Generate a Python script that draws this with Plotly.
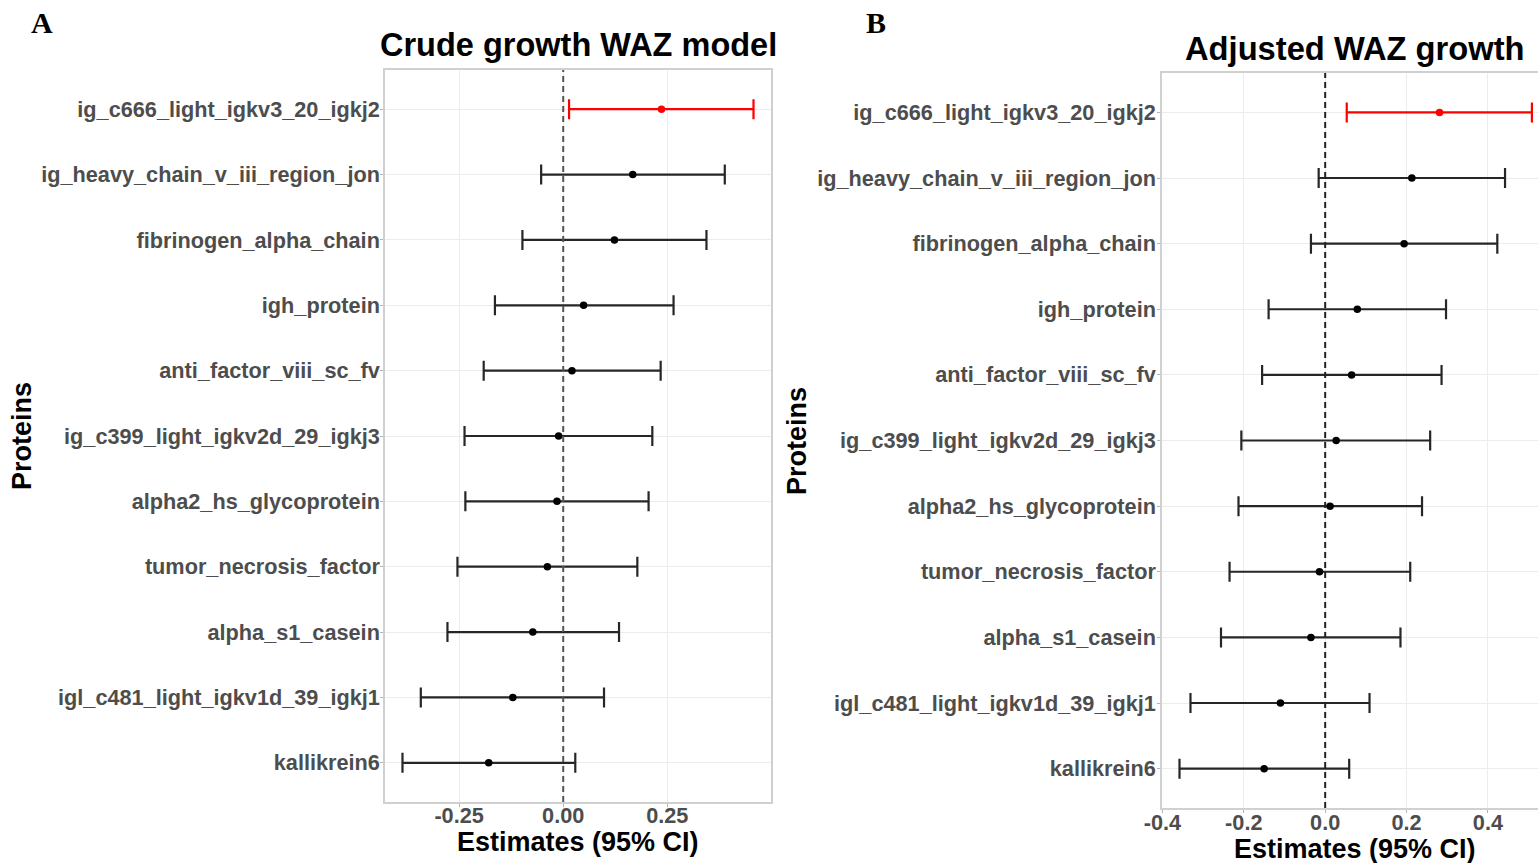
import plotly.graph_objects as go

# ---------------- data ----------------
proteins = [
    "ig_c666_light_igkv3_20_igkj2",
    "ig_heavy_chain_v_iii_region_jon",
    "fibrinogen_alpha_chain",
    "igh_protein",
    "anti_factor_viii_sc_fv",
    "ig_c399_light_igkv2d_29_igkj3",
    "alpha2_hs_glycoprotein",
    "tumor_necrosis_factor",
    "alpha_s1_casein",
    "igl_c481_light_igkv1d_39_igkj1",
    "kallikrein6",
]

crude_est = [0.236, 0.167, 0.123, 0.049, 0.021, -0.011, -0.015, -0.038, -0.073, -0.121, -0.179]
crude_lo = [0.014, -0.053, -0.098, -0.164, -0.191, -0.237, -0.235, -0.254, -0.278, -0.342, -0.386]
crude_hi = [0.457, 0.388, 0.344, 0.265, 0.234, 0.214, 0.205, 0.178, 0.134, 0.098, 0.029]

adj_est = [0.281, 0.213, 0.194, 0.079, 0.065, 0.027, 0.012, -0.014, -0.035, -0.110, -0.150]
adj_lo = [0.053, -0.016, -0.035, -0.139, -0.155, -0.206, -0.213, -0.235, -0.256, -0.331, -0.358]
adj_hi = [0.508, 0.442, 0.423, 0.297, 0.286, 0.258, 0.238, 0.209, 0.185, 0.109, 0.059]

crude_ticks = [-0.25, 0.0, 0.25]
crude_ticktext = ["-0.25", "0.00", "0.25"]
adj_ticks = [-0.4, -0.2, 0.0, 0.2, 0.4]
adj_ticktext = ["-0.4", "-0.2", "0.0", "0.2", "0.4"]

title_a = "Crude growth WAZ model"
title_b = "Adjusted WAZ growth"
x_title = "Estimates (95% CI)"
y_title = "Proteins"

# ---------------- figure ----------------
W, H = 1538, 863
FONT = "Liberation Sans, Arial, sans-serif"
fig = go.Figure()


def add_panel(est, lo, hi, xa, ya):
    groups = {"sig": [], "ns": []}
    for i, p in enumerate(proteins):
        key = "sig" if lo[i] > 0 or hi[i] < 0 else "ns"
        groups[key].append(i)
    for key, idx in groups.items():
        if not idx:
            continue
        col = "#ff0000" if key == "sig" else "#262626"
        mcol = "#ff0000" if key == "sig" else "#000000"
        fig.add_trace(go.Scatter(
            x=[est[i] for i in idx],
            y=[proteins[i] for i in idx],
            mode="markers",
            marker=dict(color=mcol, size=7.5),
            error_x=dict(
                type="data", symmetric=False,
                array=[hi[i] - est[i] for i in idx],
                arrayminus=[est[i] - lo[i] for i in idx],
                color=col, thickness=2.2, width=10,
            ),
            xaxis=xa, yaxis=ya, showlegend=False, hoverinfo="skip",
        ))


add_panel(crude_est, crude_lo, crude_hi, "x", "y")
add_panel(adj_est, adj_lo, adj_hi, "x2", "y2")


def px_x(v):
    return v / W


def px_y(v):
    return 1 - v / H


axis_common = dict(
    showline=True, mirror=True, linecolor="#d0d0d0", linewidth=1.5,
    showgrid=True, gridcolor="#ececec", gridwidth=1, automargin=False,
    zeroline=False, ticks="outside", ticklen=3, tickcolor="#b3b3b3",
    tickfont=dict(family=FONT, size=21.7, color="#4d4d4d", weight="bold"),
)

cat_order = list(reversed(proteins))

fig.update_layout(
    template="none",
    width=W, height=H, margin=dict(l=0, r=0, t=0, b=0, pad=0),
    paper_bgcolor="white", plot_bgcolor="white",
    xaxis=dict(axis_common, domain=[px_x(385), px_x(771)], range=[-0.428, 0.499],
               tickvals=crude_ticks, ticktext=crude_ticktext, anchor="y",
               ticklabelstandoff=-10),
    yaxis=dict(axis_common, domain=[px_y(802), px_y(70)], type="category",
               categoryorder="array", categoryarray=cat_order, range=[-0.6, 10.6],
               anchor="x", ticklabelstandoff=-4),
    xaxis2=dict(axis_common, domain=[px_x(1162), 1.0], range=[-0.401, 0.523],
                tickvals=adj_ticks, ticktext=adj_ticktext, anchor="y2",
                ticklabelstandoff=-9),
    yaxis2=dict(axis_common, domain=[px_y(808), px_y(73)], type="category",
                categoryorder="array", categoryarray=cat_order, range=[-0.6, 10.6],
                anchor="x2", ticklabelstandoff=-3),
)

# reference lines at zero
for xr, yr, colr in (("x", "y domain", "#555555"), ("x2", "y2 domain", "#222222")):
    fig.add_shape(type="line", xref=xr, yref=yr, x0=0, x1=0, y0=0, y1=1,
                  line=dict(color=colr, width=2, dash="6px,4px"))

# text annotations
def ann(text, x, y, size, angle=0, family=FONT, color="#000000"):
    fig.add_annotation(text=text, x=px_x(x), y=px_y(y), xref="paper", yref="paper",
                       xanchor="center", yanchor="middle", showarrow=False, textangle=angle,
                       font=dict(family=family, size=size, color=color, weight="bold"))


ann(title_a, 578, 45, 32.5)
ann(title_b, 1355, 48, 32.7)
ann(x_title, 578, 842, 27)
ann(x_title, 1355, 849, 27)
ann(y_title, 22, 436, 27, angle=-90)
ann(y_title, 797, 441, 27, angle=-90)
ann("A", 42, 22, 30, family="Liberation Serif, Times New Roman, serif")
ann("B", 876, 22, 30, family="Liberation Serif, Times New Roman, serif")

fig.write_html("out.html")
